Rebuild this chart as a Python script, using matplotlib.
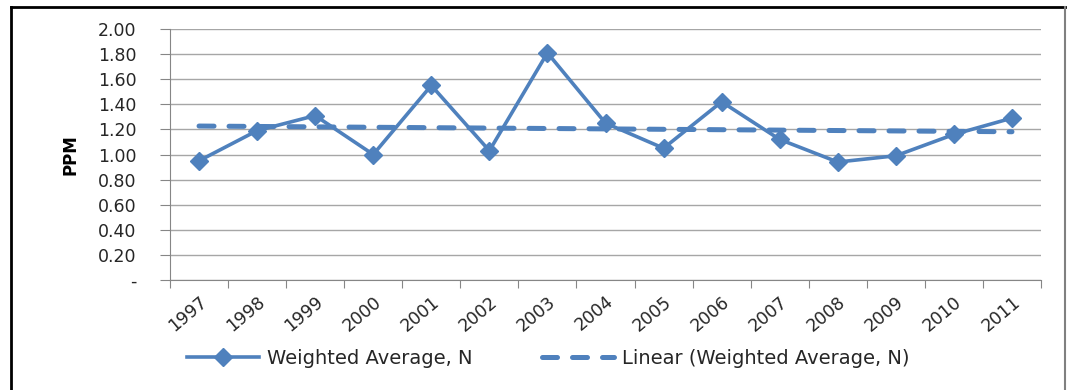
import numpy as np
import matplotlib
matplotlib.use("Agg")
import matplotlib.pyplot as plt
from matplotlib.lines import Line2D

# Data
years = ['1997', '1998', '1999', '2000', '2001', '2002', '2003', '2004',
         '2005', '2006', '2007', '2008', '2009', '2010', '2011']
weighted_avg = [0.95, 1.19, 1.31, 1.00, 1.55, 1.03, 1.81, 1.25,
                1.05, 1.42, 1.12, 0.94, 0.99, 1.16, 1.29]
y_ticks = [0.0, 0.2, 0.4, 0.6, 0.8, 1.0, 1.2, 1.4, 1.6, 1.8, 2.0]

blue = '#4F81BD'
grid_gray = '#a6a6a6'
text_col = '#262626'

plt.rcParams['font.family'] = ['DejaVu Sans']

fig = plt.figure(figsize=(10.75, 3.9), dpi=100)
ax = fig.add_axes([170 / 1075, 1 - 280 / 390, 871 / 1075, 251 / 390])

x = np.arange(len(years))
ax.plot(x, weighted_avg, color=blue, lw=2.6, marker='D', markersize=9,
        label='Weighted Average, N', zorder=3)

# linear trendline like Excel
slope, intercept = np.polyfit(x, weighted_avg, 1)
dash = (0, (3, 3))
ax.plot(x, slope * x + intercept, color=blue, lw=3.6, ls=dash,
        dash_capstyle='round', label='Linear (Weighted Average, N)', zorder=2)

ax.set_xlim(-0.5, len(years) - 0.5)
ax.set_ylim(0, 2.0)
ax.set_yticks(y_ticks)
ax.set_yticklabels(['-'] + [f'{v:.2f}' for v in y_ticks[1:]])
ax.grid(axis='y', color=grid_gray, lw=1)
ax.set_axisbelow(True)

# category boundaries carry the tick marks, labels sit at centres
ax.set_xticks(np.arange(-0.5, len(years)), minor=False)
ax.set_xticklabels([])
ax.set_xticks(x, minor=True)
ax.set_xticklabels(years, minor=True, rotation=40, ha='right',
                   rotation_mode='anchor', fontsize=12.5, color=text_col)
ax.tick_params(axis='x', which='minor', length=0, pad=9)
ax.tick_params(axis='x', which='major', length=6, color='#868686')
ax.tick_params(axis='y', length=7, color='#868686', labelsize=12.5,
               labelcolor=text_col, pad=17)

for side in ['top', 'right']:
    ax.spines[side].set_visible(False)
for side in ['left', 'bottom']:
    ax.spines[side].set_color('#868686')

ax.set_ylabel('PPM', fontsize=12, fontweight='bold', labelpad=13)

handles = [Line2D([], [], color=blue, lw=2.6, marker='D', markersize=9),
           Line2D([], [], color=blue, lw=3.6, ls=dash, dash_capstyle='round')]
fig.legend(handles, ['Weighted Average, N', 'Linear (Weighted Average, N)'],
           loc='center', bbox_to_anchor=(0.51, 1 - 358 / 390), ncol=2,
           frameon=False, fontsize=14, handlelength=3.7,
           columnspacing=3.6, handletextpad=0.4, labelcolor=text_col)

# outer chart border
fig.add_artist(Line2D([11 / 1075, 11 / 1075], [0, 1 - 7 / 390],
                      transform=fig.transFigure, color='black', lw=2))
fig.add_artist(Line2D([11 / 1075, 1065 / 1075], [1 - 7 / 390, 1 - 7 / 390],
                      transform=fig.transFigure, color='black', lw=2))
fig.add_artist(Line2D([1065 / 1075, 1065 / 1075], [0, 1 - 7 / 390],
                      transform=fig.transFigure, color='#808080', lw=1.5))

fig.savefig('out.png', dpi=100)
